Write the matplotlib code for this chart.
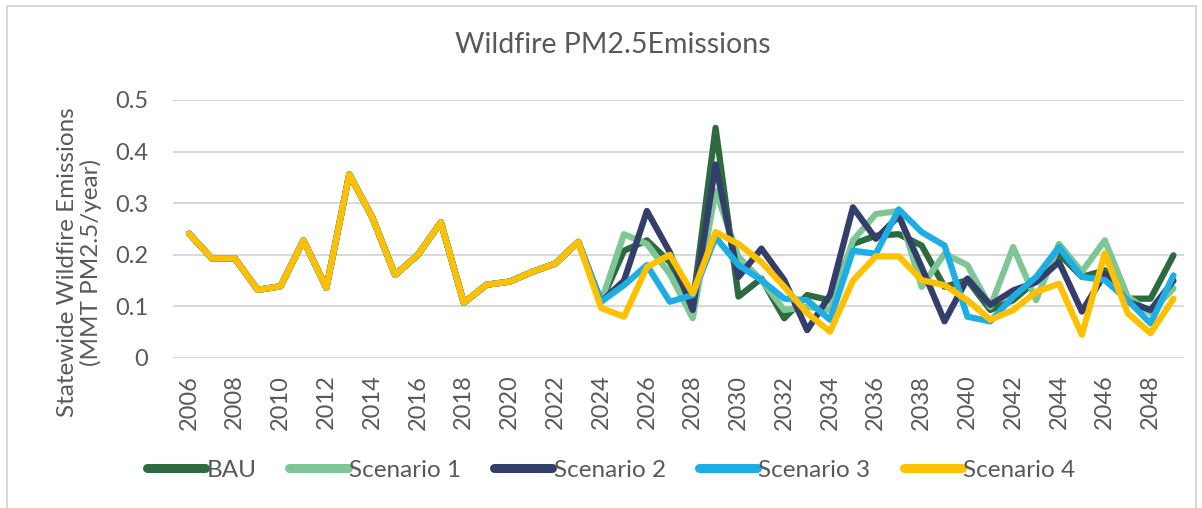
import matplotlib
matplotlib.use("Agg")
import matplotlib.pyplot as plt
from matplotlib.lines import Line2D
from matplotlib.patches import Rectangle

plt.rcParams['font.family'] = ['Lato', 'DejaVu Sans']

years = list(range(2006, 2050))
history = [0.241, 0.193, 0.193, 0.132, 0.139, 0.228, 0.136, 0.356, 0.273, 0.161,
           0.200, 0.263, 0.107, 0.142, 0.148, 0.167, 0.183, 0.225]
bau_proj = [0.109, 0.208, 0.228, 0.186, 0.105, 0.446, 0.119, 0.154, 0.077, 0.122,
            0.112, 0.221, 0.237, 0.240, 0.218, 0.138, 0.151, 0.093, 0.112, 0.150,
            0.202, 0.157, 0.170, 0.115, 0.115, 0.199]
s1_proj = [0.109, 0.240, 0.221, 0.163, 0.077, 0.324, 0.196, 0.151, 0.093, 0.099,
           0.093, 0.228, 0.279, 0.285, 0.138, 0.202, 0.180, 0.099, 0.215, 0.112,
           0.221, 0.167, 0.228, 0.119, 0.087, 0.135]
s2_proj = [0.109, 0.150, 0.285, 0.205, 0.093, 0.375, 0.157, 0.212, 0.151, 0.054,
           0.122, 0.292, 0.231, 0.275, 0.176, 0.071, 0.154, 0.103, 0.131, 0.147,
           0.186, 0.090, 0.163, 0.109, 0.093, 0.150]
s3_proj = [0.109, 0.141, 0.180, 0.109, 0.122, 0.234, 0.180, 0.151, 0.115, 0.112,
           0.074, 0.208, 0.202, 0.288, 0.244, 0.218, 0.080, 0.071, 0.119, 0.157,
           0.215, 0.157, 0.151, 0.112, 0.067, 0.160]
s4_proj = [0.097, 0.080, 0.176, 0.200, 0.125, 0.244, 0.221, 0.186, 0.138, 0.087,
           0.051, 0.150, 0.197, 0.197, 0.151, 0.141, 0.112, 0.074, 0.093, 0.128,
           0.144, 0.045, 0.203, 0.087, 0.048, 0.115]

series_names = ['BAU', 'Scenario 1', 'Scenario 2', 'Scenario 3', 'Scenario 4']
series_proj = [bau_proj, s1_proj, s2_proj, s3_proj, s4_proj]
colors = ['#2d6a3f', '#7fc696', '#333f6a', '#1eaee4', '#ffc000']

y_ticks = [0, 0.1, 0.2, 0.3, 0.4, 0.5]
y_ticklabels = ['0', '0.1', '0.2', '0.3', '0.4', '0.5']
x_ticks = years[::2]
x_ticklabels = [str(y) for y in x_ticks]

text_color = '#595959'
grid_color = '#d9d9d9'

W, H = 1202, 508
fig = plt.figure(figsize=(W / 100, H / 100), dpi=100)

# outer chart frame
fig.patches.append(Rectangle((7 / W, -0.05), 1189 / W, 1.05 - 6 / H,
                             transform=fig.transFigure, fill=False,
                             edgecolor='#d9d9d9', linewidth=1.5))

ax_left, ax_right = 173, 1184
ax = fig.add_axes([ax_left / W, 1 - 358 / H, (ax_right - ax_left) / W, 258 / H])

for name, proj, c in zip(series_names, series_proj, colors):
    vals = history + proj
    ax.plot(years, vals, color=c, linewidth=4.5, solid_joinstyle='round',
            solid_capstyle='round', zorder=3)

ax.set_xlim(2005.30, 2049.46)
ax.set_ylim(0, 0.5)
ax.set_yticks(y_ticks)
ax.set_yticklabels(y_ticklabels)
ax.set_xticks(x_ticks)
ax.set_xticklabels(x_ticklabels, rotation=90)
ax.tick_params(axis='both', length=0, colors=text_color, labelsize=17)
ax.tick_params(axis='x', pad=12)
ax.tick_params(axis='y', pad=18)
ax.grid(axis='y', color=grid_color, linewidth=1.5)
ax.set_axisbelow(True)
for s in ax.spines.values():
    s.set_visible(False)

ax.set_ylabel('Statewide Wildfire Emissions\n(MMT PM2.5/year)', color=text_color,
              fontsize=17.5, linespacing=1.1)
ax.yaxis.set_label_coords(-(ax_left - 102) / (ax_right - ax_left), 0.372)

fig.text(613 / W, 1 - 45 / H, 'Wildfire PM2.5Emissions', ha='center', va='center',
         color=text_color, fontsize=20.5)

handles = [Line2D([0], [0], color=c, linewidth=6.5, solid_capstyle='round')
           for c in colors]
fig.legend(handles, series_names, loc='center', bbox_to_anchor=(611 / W, 1 - 470 / H),
           ncol=5, frameon=False, fontsize=17.5, handlelength=2.4,
           handletextpad=0.05, columnspacing=1.36, labelcolor=text_color)

fig.savefig('out.png', dpi=100, facecolor='white')
